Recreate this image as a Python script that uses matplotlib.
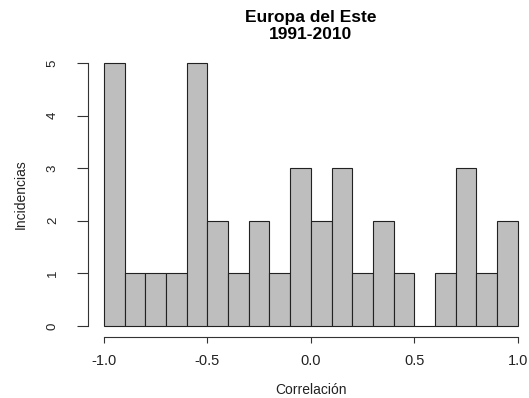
import matplotlib
matplotlib.use("Agg")
import matplotlib.pyplot as plt
import numpy as np

bin_edges = [round(-1.0 + 0.1 * i, 1) for i in range(21)]
counts = [5, 1, 1, 1, 5, 2, 1, 2, 1, 3, 2, 3, 1, 2, 1, 0, 1, 3, 1, 2]
x_ticks = [-1.0, -0.5, 0.0, 0.5, 1.0]
x_tick_labels = ["-1.0", "-0.5", "0.0", "0.5", "1.0"]
y_ticks = [0, 1, 2, 3, 4, 5]

plt.rcParams['font.family'] = ['Liberation Sans', 'DejaVu Sans']

fig = plt.figure(figsize=(5.29, 3.98), dpi=100)
ax = fig.add_axes([0.1809, 0.1545, 0.8134, 0.7138])

lefts = np.array(bin_edges[:-1])
widths = np.diff(bin_edges)
ax.bar(lefts, counts, width=widths, align='edge', color='#BEBEBE',
       edgecolor='#222222', linewidth=0.8)

ax.set_xlim(-1.04, 1.04)
ax.set_ylim(-0.2, 5.2)

for s in ['top', 'right']:
    ax.spines[s].set_visible(False)
ax.spines['bottom'].set_bounds(-1.0, 1.0)
ax.spines['left'].set_bounds(0, 5)
ax.spines['left'].set_position(('outward', 5.5))
for s in ['bottom', 'left']:
    ax.spines[s].set_linewidth(0.8)
    ax.spines[s].set_color('#333333')

ax.set_xticks(x_ticks)
ax.set_xticklabels(x_tick_labels)
ax.set_yticks(y_ticks)
ax.set_yticklabels([str(v) for v in y_ticks], rotation=90, va='center')
ax.tick_params(axis='x', length=4.5, width=0.8, color='#333333',
               labelsize=10.5, labelcolor='#222222', pad=8)
ax.tick_params(axis='y', length=8, width=0.8, color='#333333',
               labelsize=9.5, labelcolor='#222222', pad=13)

ax.set_xlabel("Correlación", fontsize=10, labelpad=11, color='#222222')
ax.set_ylabel("Incidencias", fontsize=10, labelpad=14, color='#222222')
ax.set_title("Europa del Este\n1991-2010", fontsize=12.5, fontweight='bold',
             pad=10, linespacing=1.1)

fig.savefig("out.png", dpi=100)
